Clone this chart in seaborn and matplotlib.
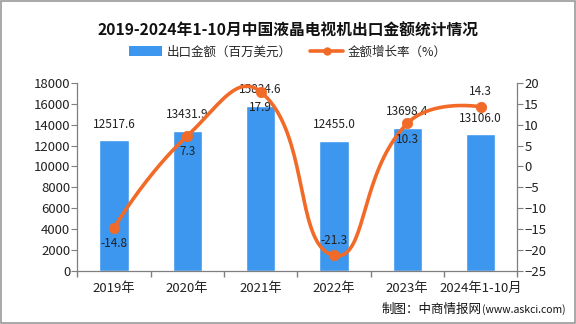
import numpy as np
import matplotlib
matplotlib.use("Agg")
import matplotlib.pyplot as plt
from matplotlib.patches import Patch, Rectangle
from matplotlib.lines import Line2D
import seaborn as sns

categories = ["2019年", "2020年", "2021年", "2022年", "2023年", "2024年1-10月"]
export_value = [12517.6, 13431.9, 15834.6, 12455.0, 13698.4, 13106.0]
growth_rate = [-14.8, 7.3, 17.9, -21.3, 10.3, 14.3]
left_ticks = list(range(0, 18001, 2000))
right_ticks = list(range(-25, 21, 5))

sns.set_theme(style="white")
plt.rcParams["font.family"] = ["Noto Sans CJK SC", "DejaVu Sans"]

BAR = "#3d97ee"
LINE = "#f26a28"
GREY = "#7f7f7f"

fig = plt.figure(figsize=(5.76, 3.24), dpi=100)
ax = fig.add_axes([0.134, 0.164, 0.764, 0.580])

sns.barplot(x=categories, y=export_value, color=BAR, width=0.4,
            saturation=1, ax=ax, zorder=2)
ax.set_ylim(0, 18000)
ax.set_yticks(left_ticks)
ax.set_xlim(-0.5, len(categories) - 0.5)
ax.set_xlabel("")
ax.set_ylabel("")
for i, v in enumerate(export_value):
    ax.text(i, v + 900, f"{v:.1f}", ha="center", va="bottom", fontsize=8.5,
            color="#222222", zorder=5)

ax2 = ax.twinx()
ax2.set_ylim(-25, 20)
ax2.set_yticks(right_ticks)


def smooth_path(xs, ys, sx_px, sy_px, smooth=0.5, n=40):
    # cubic Bezier through the points; control points follow the
    # neighbour-to-neighbour direction, weighted by on-screen distances
    p = np.column_stack([np.asarray(xs, float), np.asarray(ys, float)])
    scale = np.array([sx_px, sy_px])
    m = len(p)
    cp_in = p.copy()
    cp_out = p.copy()
    for i in range(1, m - 1):
        v = p[i + 1] - p[i - 1]
        d0 = np.linalg.norm((p[i] - p[i - 1]) * scale)
        d1 = np.linalg.norm((p[i + 1] - p[i]) * scale)
        cp_in[i] = p[i] - v * smooth * d0 / (d0 + d1)
        cp_out[i] = p[i] + v * smooth * d1 / (d0 + d1)
    t = np.linspace(0, 1, n)[:, None]
    segs = []
    for i in range(m - 1):
        a, b, c, d = p[i], cp_out[i], cp_in[i + 1], p[i + 1]
        segs.append((1 - t) ** 3 * a + 3 * (1 - t) ** 2 * t * b
                    + 3 * (1 - t) * t ** 2 * c + t ** 3 * d)
    path = np.vstack(segs)
    return path[:, 0], path[:, 1]


xpos = np.arange(len(categories))
sx, sy = smooth_path(xpos, growth_rate, 73.3, 4.18)
ax2.plot(sx, sy, color=LINE, lw=2.6, zorder=3, solid_capstyle="round")
sns.scatterplot(x=xpos, y=growth_rate, color=LINE, s=55, edgecolor=LINE,
                ax=ax2, zorder=4, legend=False)

# rate labels: below the point except where the curve dips or ends high
label_above = [False, False, False, True, False, True]
for i, (v, above) in enumerate(zip(growth_rate, label_above)):
    ax2.text(i, v + (2.0 if above else -2.2), f"{v:.1f}", ha="center",
             va="bottom" if above else "top", fontsize=8.5,
             color="#222222", zorder=5)

for a in (ax, ax2):
    for s in a.spines.values():
        s.set_visible(False)
    a.tick_params(labelsize=9.5, colors="#222222", length=4, width=0.8,
                  direction="out", pad=1)
ax.spines["left"].set_visible(True)
ax.spines["bottom"].set_visible(True)
ax2.spines["right"].set_visible(True)
for s in (ax.spines["left"], ax.spines["bottom"], ax2.spines["right"]):
    s.set_color(GREY)
    s.set_linewidth(0.9)
ax.tick_params(axis="y", left=True, color=GREY)
ax2.tick_params(axis="y", right=True, color=GREY)
ax.tick_params(axis="x", bottom=False, pad=4)
ax.set_xticks(np.arange(-0.5, len(categories), 1), minor=True)
ax.tick_params(axis="x", which="minor", bottom=True, length=4, color=GREY)
ax.grid(False)
ax2.grid(False)

fig.text(0.5, 0.905, "2019-2024年1-10月中国液晶电视机出口金额统计情况",
         ha="center", va="center", fontsize=11.3, fontweight="bold",
         color="#111111")

handles = [Patch(facecolor=BAR, edgecolor="none"),
           Line2D([0], [0], color=LINE, lw=2.6, marker="o", markersize=5)]
fig.legend(handles, ["出口金额（百万美元）", "金额增长率（%）"],
           loc="center", bbox_to_anchor=(0.5, 0.84), ncol=2, frameon=False,
           fontsize=9, handlelength=2.6, handleheight=0.8, columnspacing=1.5,
           handletextpad=0.4)

# source note: Chinese part at normal size, web address smaller
url = fig.text(0.982, 0.045, "(www.askci.com)", ha="right", va="center",
               fontsize=7.5, color="#111111")
fig.canvas.draw()
bb = url.get_window_extent().transformed(fig.transFigure.inverted())
fig.text(bb.x0, 0.045, "制图：中商情报网", ha="right", va="center",
         fontsize=9, color="#111111")

fig.patches.append(Rectangle((0.002, 0.003), 0.996, 0.994, transform=fig.transFigure,
                             fill=False, edgecolor="#999999", lw=1.2))

fig.savefig("out.png", dpi=100, facecolor="white")
